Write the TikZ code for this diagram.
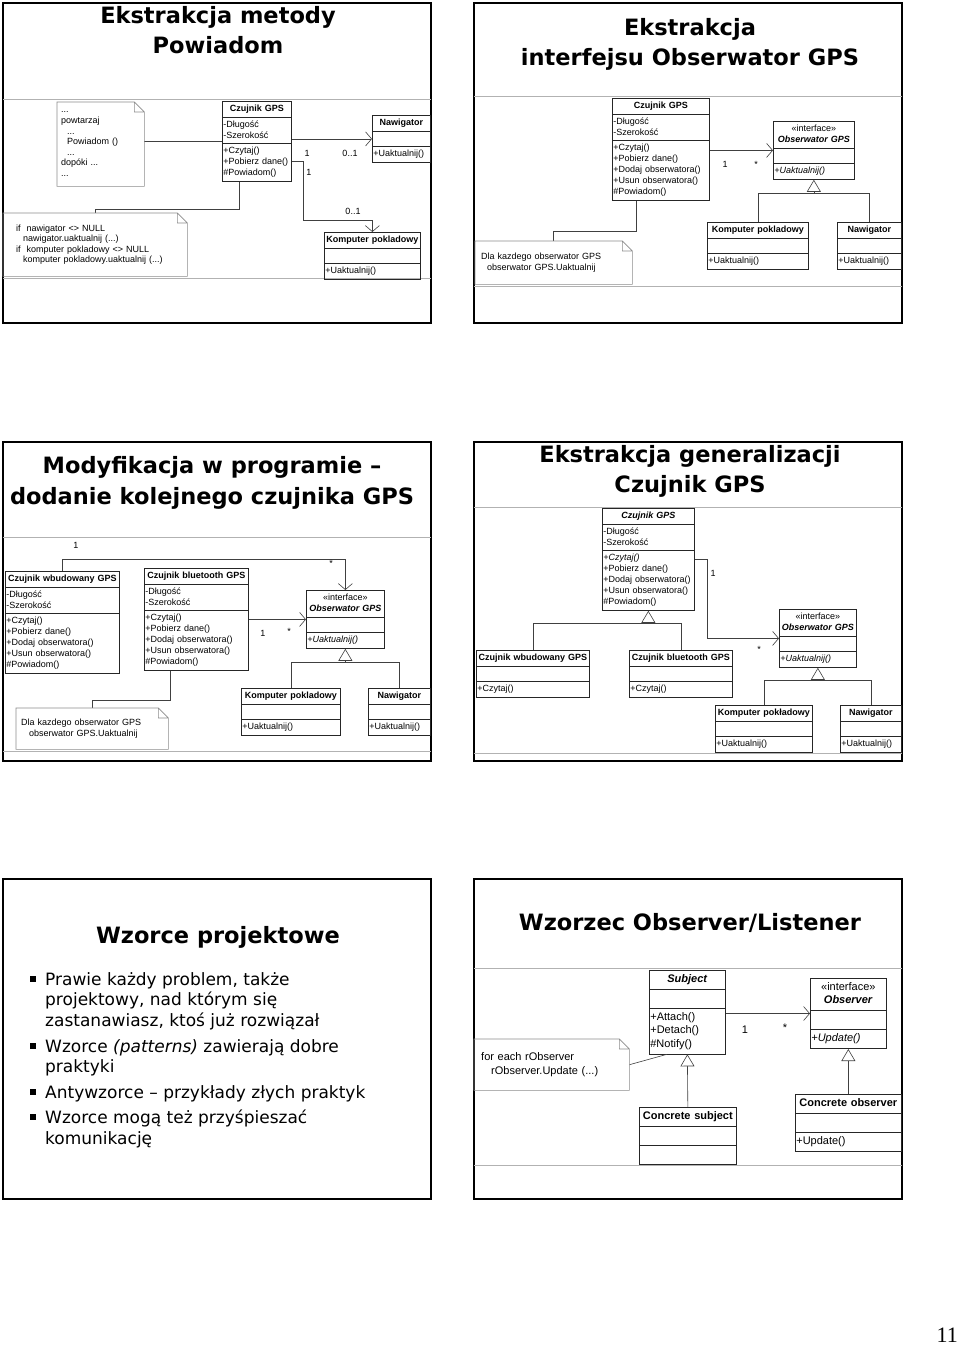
\documentclass[tikz,border=0pt]{standalone}
\usepackage{fontspec}
\setmainfont{Liberation Sans}
\newfontfamily\slidefont{DejaVu Sans}
\newfontfamily\pagefont{Liberation Serif}
\usepackage{tikz}
\usetikzlibrary{positioning,calc,arrows.meta,shapes.multipart}
\newcommand\clsname[1]{\hspace*{\fill}#1\hspace*{\fill}\mbox{}}

\begin{document}
\begin{tikzpicture}[x=1pt, y=-1pt,
  frame/.style={draw=black, line width=1.6pt},
  sepline/.style={draw=black!30, line width=0.8pt},
  title/.style={font=\slidefont\bfseries\fontsize{22.5}{30}\selectfont, anchor=base, inner sep=0pt},
  cls/.style={draw=black!85, line width=0.7pt, rectangle split, rectangle split parts=3,
    anchor=north west, align=left, inner xsep=1pt, inner ysep=2pt,
    font=\fontsize{9}{11}\selectfont},
  big/.style={font=\fontsize{11}{13.3}\selectfont, inner ysep=2.5pt},
  note/.style={anchor=north west, align=left, inner ysep=0pt, font=\fontsize{9}{10.6}\selectfont},
  notebd/.style={draw=black!45, line width=0.6pt},
  link/.style={draw=black!75, line width=0.6pt},
  assoc/.style={link, -{Straight Barb[length=6pt,width=14pt]}},
  gen/.style={link, -{Triangle[open,length=12pt,width=14pt,fill=white]}},
  mult/.style={font=\fontsize{9}{11}\selectfont, inner sep=0pt},
  bultext/.style={anchor=north west, align=left, inner sep=0pt, font=\slidefont\fontsize{17}{20.7}\selectfont},
  bul/.style={fill=black, minimum size=6pt, inner sep=0pt}
]
\useasboundingbox (0,0) rectangle (960,1345);
\fill[white] (0,0) rectangle (960,1345);

% slide 1: Ekstrakcja metody Powiadom
\draw[frame] (3,3) rectangle (431,323);
\draw[sepline] (3,99) -- (431,99) (3,278) -- (431,278);
\node[title] (tA1) at (218,23) {Ekstrakcja metody};
\node[title] (tA2) at (218,53) {Powiadom};
\node[cls, text width=67pt] (czA) at (222,101)
  {\strut\clsname{\textbf{Czujnik GPS}}
   \nodepart{second}\strut-Długość\\-Szerokość\strut
   \nodepart{third}\strut+Czytaj()\\+Pobierz dane()\\\#Powiadom()\strut};
\node[cls, text width=56pt] (navA) at (372,115)
  {\strut\clsname{\textbf{Nawigator}}\nodepart{second}\strut\nodepart{third}\strut+Uaktualnij()};
\node[cls, text width=94pt] (kpA) at (324,232)
  {\strut\clsname{\textbf{Komputer pokladowy}}\nodepart{second}\strut\nodepart{third}\strut+Uaktualnij()};
\node[note, text width=79pt, inner xsep=4pt, minimum height=84pt] (nA1) at (57,102)
  {...\\powtarzaj\\\hspace*{6pt}...\\\hspace*{6pt}Powiadom ()\\\hspace*{6pt}...\\dopóki ...\\...};
\node[note, text width=158pt, inner xsep=13pt, minimum height=63pt] (nA2) at (3,213)
  {if\ \ nawigator \textless\textgreater{} NULL\\\hspace*{7pt}nawigator.uaktualnij (...)\\
   if\ \ komputer pokladowy \textless\textgreater{} NULL\\\hspace*{7pt}komputer pokladowy.uaktualnij (...)};
\draw[link] (czA.west) -- (czA.west -| nA1.east);
\draw[link] (nA2.north) |- ([xshift=17pt,yshift=-27pt]czA.south west) -- ([xshift=17pt]czA.south west);
\draw[assoc] (czA.east |- navA.west) -- (navA.west);
\draw[assoc] ($(czA.south east)!0.25!(czA.north east)$) -- ++(12pt,0) |- ([yshift=12pt]kpA.north) -- (kpA.north);
\node[mult] (mA1) at (307,153) {1};
\node[mult] (mA2) at (350,153) {0..1};
\node[mult] (mA3) at (309,172) {1};
\node[mult] (mA4) at (353,211) {0..1};

% slide 2: Ekstrakcja interfejsu
\draw[frame] (474,3) rectangle (902,323);
\draw[sepline] (474,96) -- (902,96) (474,286) -- (902,286);
\node[title] (tB1) at (690,35) {Ekstrakcja};
\node[title] (tB2) at (690,65) {interfejsu Obserwator GPS};
\node[cls, text width=95pt] (czB) at (612,98)
  {\strut\clsname{\textbf{Czujnik GPS}}
   \nodepart{second}\strut-Długość\\-Szerokość\strut
   \nodepart{third}\strut+Czytaj()\\+Pobierz dane()\\+Dodaj obserwatora()\\+Usun obserwatora()\\\#Powiadom()\strut};
\node[cls, text width=79pt] (ifB) at (773,121)
  {\strut\clsname{«interface»}\\\clsname{\textbf{\textit{Obserwator GPS}}}\strut
   \nodepart{second}\strut\nodepart{third}\strut\textit{+Uaktualnij()}};
\node[cls, text width=99pt] (kpB) at (707,222)
  {\strut\clsname{\textbf{Komputer pokladowy}}\nodepart{second}\strut\nodepart{third}\strut+Uaktualnij()};
\node[cls, text width=62pt] (navB) at (837,222)
  {\strut\clsname{\textbf{Nawigator}}\nodepart{second}\strut\nodepart{third}\strut+Uaktualnij()};
\node[note, text width=145pt, inner xsep=6pt, minimum height=43pt] (nB) at (475,241)
  {Dla kazdego obserwator GPS\\\hspace*{6pt}obserwator GPS.Uaktualnij};
\draw[link] (nB.north) |- ([xshift=24pt,yshift=-30pt]czB.south west) -- ([xshift=24pt]czB.south west);
\draw[assoc] (czB.east |- ifB.west) -- (ifB.west);
\draw[gen] (kpB.north) |- ([yshift=-13pt]ifB.south) -- (ifB.south);
\draw[link] (navB.north) |- ([yshift=-13pt]ifB.south);
\node[mult] (mB1) at (725,164) {1};
\node[mult] (mB2) at (756,164) {*};

% slide 3: Modyfikacja w programie
\draw[frame] (3,442) rectangle (431,761);
\draw[sepline] (3,537) -- (431,537) (3,751) -- (431,751);
\node[title] (tC1) at (212,473) {Modyfikacja w programie –};
\node[title] (tC2) at (212,504) {dodanie kolejnego czujnika GPS};
\node[cls, text width=112pt] (wbC) at (5,571)
  {\strut\clsname{\textbf{Czujnik wbudowany GPS}}
   \nodepart{second}\strut-Długość\\-Szerokość\strut
   \nodepart{third}\strut+Czytaj()\\+Pobierz dane()\\+Dodaj obserwatora()\\+Usun obserwatora()\\\#Powiadom()\strut};
\node[cls, text width=102pt] (btC) at (144,568)
  {\strut\clsname{\textbf{Czujnik bluetooth GPS}}
   \nodepart{second}\strut-Długość\\-Szerokość\strut
   \nodepart{third}\strut+Czytaj()\\+Pobierz dane()\\+Dodaj obserwatora()\\+Usun obserwatora()\\\#Powiadom()\strut};
\node[cls, text width=76pt] (ifC) at (306,590)
  {\strut\clsname{«interface»}\\\clsname{\textbf{\textit{Obserwator GPS}}}\strut
   \nodepart{second}\strut\nodepart{third}\strut\textit{+Uaktualnij()}};
\node[cls, text width=97pt] (kpC) at (241,688)
  {\strut\clsname{\textbf{Komputer pokladowy}}\nodepart{second}\strut\nodepart{third}\strut+Uaktualnij()};
\node[cls, text width=60pt] (navC) at (368,688)
  {\strut\clsname{\textbf{Nawigator}}\nodepart{second}\strut\nodepart{third}\strut+Uaktualnij()};
\node[note, text width=142pt, inner xsep=5pt, minimum height=41pt] (nC) at (16,708)
  {Dla kazdego obserwator GPS\\\hspace*{8pt}obserwator GPS.Uaktualnij};
\draw[link] (nC.north) |- ([xshift=26pt,yshift=-29pt]btC.south west) -- ([xshift=26pt]btC.south west);
\draw[assoc] (btC.east |- ifC.west) -- (ifC.west);
\draw[assoc] (wbC.north) |- ([yshift=31pt]ifC.north) -- (ifC.north);
\draw[gen] (kpC.north) |- ([yshift=-13pt]ifC.south) -- (ifC.south);
\draw[link] (navC.north) |- ([yshift=-13pt]ifC.south);
\node[mult] (mC1) at (263,633) {1};
\node[mult] (mC2) at (289,631) {*};
\node[mult] (mC3) at (76,545) {1};
\node[mult] (mC4) at (331,563) {*};

% slide 4: Ekstrakcja generalizacji
\draw[frame] (474,442) rectangle (902,761);
\draw[sepline] (474,507) -- (902,507) (474,753) -- (902,753);
\node[title] (tD1) at (690,462) {Ekstrakcja generalizacji};
\node[title] (tD2) at (690,492) {Czujnik GPS};
\node[cls, text width=90pt] (czD) at (602,508)
  {\strut\clsname{\textbf{\textit{Czujnik GPS}}}
   \nodepart{second}\strut-Długość\\-Szerokość\strut
   \nodepart{third}\strut\textit{+Czytaj()}\\+Pobierz dane()\\+Dodaj obserwatora()\\+Usun obserwatora()\\\#Powiadom()\strut};
\node[cls, text width=111pt] (wbD) at (476,650)
  {\strut\clsname{\textbf{Czujnik wbudowany GPS}}\nodepart{second}\strut\nodepart{third}\strut+Czytaj()};
\node[cls, text width=101pt] (btD) at (629,650)
  {\strut\clsname{\textbf{Czujnik bluetooth GPS}}\nodepart{second}\strut\nodepart{third}\strut+Czytaj()};
\node[cls, text width=75pt] (ifD) at (779,609)
  {\strut\clsname{«interface»}\\\clsname{\textbf{\textit{Obserwator GPS}}}\strut
   \nodepart{second}\strut\nodepart{third}\strut\textit{+Uaktualnij()}};
\node[cls, text width=95pt] (kpD) at (715,705)
  {\strut\clsname{\textbf{Komputer pokładowy}}\nodepart{second}\strut\nodepart{third}\strut+Uaktualnij()};
\node[cls, text width=59pt] (navD) at (840,705)
  {\strut\clsname{\textbf{Nawigator}}\nodepart{second}\strut\nodepart{third}\strut+Uaktualnij()};
\draw[gen] (wbD.north) |- ([yshift=-12pt]czD.south) -- (czD.south);
\draw[link] (btD.north) |- ([yshift=-12pt]czD.south);
\draw[assoc] (czD.east) -- ++(13pt,0) |- (ifD.west);
\draw[gen] (kpD.north) |- ([yshift=-12pt]ifD.south) -- (ifD.south);
\draw[link] (navD.north) |- ([yshift=-12pt]ifD.south);
\node[mult] (mD1) at (713,573) {1};
\node[mult] (mD2) at (759,649) {*};

% slide 5: Wzorce projektowe
\draw[frame] (3,879) rectangle (431,1199);
\node[title] (tE) at (218,943) {Wzorce projektowe};
\node[bul] (b1) at (33,979) {};
\node[bul] (b2) at (33,1046) {};
\node[bul] (b3) at (33,1092) {};
\node[bul] (b4) at (33,1117) {};
\node[bultext] (i1) at (45,972) {Prawie każdy problem, także\\projektowy, nad którym się\\zastanawiasz, ktoś już rozwiązał};
\node[bultext] (i2) at (45,1039) {Wzorce \textit{(patterns)} zawierają dobre\\praktyki};
\node[bultext] (i3) at (45,1085) {Antywzorce – przykłady złych praktyk};
\node[bultext] (i4) at (45,1110) {Wzorce mogą też przyśpieszać\\komunikację};

% slide 6: Wzorzec Observer/Listener
\draw[frame] (474,879) rectangle (902,1199);
\draw[sepline] (474,968) -- (902,968) (474,1165) -- (902,1165);
\node[title] (tF) at (690,930) {Wzorzec Observer/Listener};
\node[cls, big, text width=74pt] (subE) at (649,970)
  {\strut\clsname{\textbf{\textit{Subject}}}\nodepart{second}\strut
   \nodepart{third}\strut+Attach()\\+Detach()\\\#Notify()\strut};
\node[cls, big, text width=74pt] (obsE) at (810,978)
  {\strut\clsname{«interface»}\\\clsname{\textbf{\textit{Observer}}}\strut
   \nodepart{second}\strut\nodepart{third}\strut\textit{+Update()}};
\node[cls, big, text width=95pt] (csE) at (639,1107)
  {\strut\clsname{\textbf{Concrete subject}}\nodepart{second}\strut\nodepart{third}\strut};
\node[cls, big, text width=104pt] (coE) at (795,1094)
  {\strut\clsname{\textbf{Concrete observer}}\nodepart{second}\strut\nodepart{third}\strut+Update()};
\node[note, text width=141pt, inner xsep=7pt, minimum height=51pt, font=\fontsize{11}{13.7}\selectfont] (nE) at (474,1039)
  {for each rObserver\\\hspace*{10pt}rObserver.Update (...)};
\draw[link] (nE.east) -- ([xshift=18pt]subE.south west);
\draw[assoc] (subE.east |- obsE.west) -- (obsE.west);
\draw[gen] (csE.north) -- (subE.south);
\draw[gen] (coE.north) -- (obsE.south);
\node[mult, font=\fontsize{11}{13}\selectfont] (mE1) at (745,1030) {1};
\node[mult, font=\fontsize{11}{13}\selectfont] (mE2) at (785,1028) {*};

% note outlines with folded corner
\foreach \n in {nA1,nA2,nB,nC,nE}
  \draw[notebd] (\n.north west) -- ([xshift=-10pt]\n.north east) -- ([yshift=-10pt]\n.north east)
    -- (\n.south east) -- (\n.south west) -- cycle
    ([xshift=-10pt]\n.north east) |- ([yshift=-10pt]\n.north east);

\node[font=\pagefont\fontsize{22}{26}\selectfont, anchor=base east, inner sep=0pt] (pg) at (958,1342) {11};
\end{tikzpicture}
\end{document}
